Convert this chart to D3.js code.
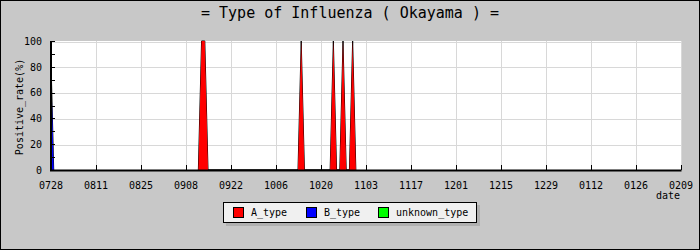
<!DOCTYPE html>
<html lang="en">
<head>
    <meta charset="UTF-8">
    <title>Type of Influenza ( Okayama )</title>
    <script src="https://d3js.org/d3.v7.min.js"></script>
    <style>
        body { margin: 0; background: #c8c8c8; }
        svg { display: block; }
        text { font-family: "DejaVu Sans Mono", "Liberation Mono", monospace; fill: #000; }
        .tick-label { font-size: 10px; }
        .title { font-size: 15px; }
        .grid line { stroke: #d8d8d8; stroke-width: 1; shape-rendering: crispEdges; }
        .grid path { display: none; }
    </style>
</head>
<body>
<svg width="700" height="250"></svg>
<script>
    // tick labels (every 14 days, MMDD)
    const xTickLabels = ["0728", "0811", "0825", "0908", "0922", "1006", "1020",
        "1103", "1117", "1201", "1215", "1229", "0112", "0126", "0209"];
    const yTicks = [0, 20, 40, 60, 80, 100];
    const yMinorTicks = [0, 10, 20, 30, 40, 50, 60, 70, 80, 90, 100];

    // positive rate (%) per date, by type
    const aDates = ["0912", "0913", "0914", "0915",
        "1013", "1014", "1015",
        "1023", "1024", "1025",
        "1026", "1027", "1028",
        "1029", "1030", "1031"];
    const aValues = [0, 100, 100, 0,
        0, 100, 0,
        0, 100, 0,
        0, 100, 0,
        0, 100, 0];
    const bDates = ["0728", "0729"];
    const bValues = [100, 0];
    const unknownDates = [];
    const unknownValues = [];

    const seriesNames = ["A_type", "B_type", "unknown_type"];
    const seriesColors = ["#ff0000", "#0000ff", "#00ff00"];

    // MMDD -> Date (season Jul 2009 .. Feb 2010)
    function parseDay(s) {
        const m = +s.slice(0, 2), d = +s.slice(2);
        return new Date(m >= 7 ? 2009 : 2010, m - 1, d);
    }

    const width = 700, height = 250;
    const plot = { left: 50.5, right: 680.5, top: 41, bottom: 170 };

    const svg = d3.select("svg");

    // background + frame
    svg.append("rect").attr("x", 0.5).attr("y", 0.5)
        .attr("width", width - 1).attr("height", height - 1)
        .attr("fill", "#c8c8c8").attr("stroke", "#000");

    svg.append("text").attr("class", "title")
        .attr("x", 350).attr("y", 18).attr("text-anchor", "middle")
        .text("= Type of Influenza ( Okayama ) =");

    const x = d3.scaleTime()
        .domain([parseDay(xTickLabels[0]), parseDay(xTickLabels[xTickLabels.length - 1])])
        .range([plot.left, plot.right]);

    const y = d3.scaleLinear()
        .domain([0, 100])
        .range([plot.bottom, plot.top]);

    // plot area
    svg.append("rect")
        .attr("x", 51).attr("y", plot.top)
        .attr("width", plot.right + 0.5 - 51).attr("height", plot.bottom - plot.top)
        .attr("fill", "#fff");

    const tickDates = xTickLabels.map(parseDay);

    // grid lines
    svg.append("g").attr("class", "grid")
        .attr("transform", `translate(0,${plot.bottom})`)
        .call(d3.axisBottom(x).tickValues(tickDates.slice(1))
            .tickSize(-(plot.bottom - plot.top)).tickFormat(""));

    svg.append("g").attr("class", "grid")
        .attr("transform", `translate(51,0)`)
        .call(d3.axisRight(y).tickValues(yTicks.slice(1).map(v => v))
            .tickSize(plot.right - 51).tickFormat(""))
        .selectAll("line").attr("transform", "translate(0,0.5)");

    // areas
    svg.append("clipPath").attr("id", "clip")
        .append("rect")
        .attr("x", 51).attr("y", plot.top - 2)
        .attr("width", plot.right - 51).attr("height", plot.bottom - plot.top + 2);

    const area = d3.area()
        .x(d => x(d.date))
        .y0(y(0))
        .y1(d => y(d.value));

    const series = [
        { dates: aDates, values: aValues },
        { dates: bDates, values: bValues },
        { dates: unknownDates, values: unknownValues }
    ];

    const marks = svg.append("g").attr("clip-path", "url(#clip)");
    series.forEach((s, i) => {
        const data = s.dates.map((d, j) => ({ date: parseDay(d), value: s.values[j] }));
        if (!data.length) return;
        marks.append("path")
            .attr("d", area(data))
            .attr("fill", "none")
            .attr("stroke", "#000")
            .attr("stroke-width", 1);
        marks.append("path")
            .attr("d", area(data))
            .attr("fill", seriesColors[i]);
    });

    // axis lines
    svg.append("rect").attr("x", 50).attr("y", plot.top)
        .attr("width", 2).attr("height", plot.bottom - plot.top + 1).attr("fill", "#000");
    svg.append("rect").attr("x", 50).attr("y", plot.bottom - 0.5)
        .attr("width", plot.right + 1 - 50).attr("height", 2).attr("fill", "#000");

    // x ticks + labels
    const xAxis = svg.append("g")
        .attr("transform", `translate(0,${plot.bottom})`)
        .call(d3.axisBottom(x).tickValues(tickDates)
            .tickSizeInner(-5).tickSizeOuter(0).tickPadding(12)
            .tickFormat((d, i) => xTickLabels[i]));
    xAxis.select(".domain").remove();
    xAxis.selectAll("line").attr("stroke", "#000").attr("shape-rendering", "crispEdges");
    xAxis.selectAll("text").attr("class", "tick-label").attr("font-family", null).attr("font-size", null);

    // y minor ticks
    const yMinor = svg.append("g")
        .attr("transform", `translate(52,0)`)
        .call(d3.axisRight(y).tickValues(yMinorTicks).tickSize(3).tickFormat(""));
    yMinor.select(".domain").remove();
    yMinor.selectAll("line").attr("stroke", "#000").attr("shape-rendering", "crispEdges");

    // y labels
    const yAxis = svg.append("g")
        .attr("transform", `translate(51,0)`)
        .call(d3.axisLeft(y).tickValues(yTicks).tickSize(0).tickPadding(9));
    yAxis.select(".domain").remove();
    yAxis.selectAll("text").attr("class", "tick-label").attr("font-family", null).attr("font-size", null);

    // axis titles
    svg.append("text").attr("class", "tick-label")
        .attr("transform", "translate(23,107) rotate(-90)")
        .attr("text-anchor", "middle")
        .text("Positive_rate(%)");

    svg.append("text").attr("class", "tick-label")
        .attr("x", 680).attr("y", 199).attr("text-anchor", "end")
        .text("date");

    // legend
    const legend = svg.append("g");
    legend.append("rect").attr("x", 226).attr("y", 205)
        .attr("width", 254).attr("height", 21).attr("fill", "#b0b0b0");
    legend.append("rect").attr("x", 223.5).attr("y", 202.5)
        .attr("width", 253).attr("height", 20)
        .attr("fill", "#f0f0f0").attr("stroke", "#000");

    const legendX = [233, 306, 378];
    seriesNames.forEach((name, i) => {
        legend.append("rect")
            .attr("x", legendX[i] + 0.5).attr("y", 207.5)
            .attr("width", 10).attr("height", 10)
            .attr("fill", seriesColors[i]).attr("stroke", "#000");
        legend.append("text").attr("class", "tick-label")
            .attr("x", legendX[i] + 18).attr("y", 216)
            .text(name);
    });
</script>
</body>
</html>
